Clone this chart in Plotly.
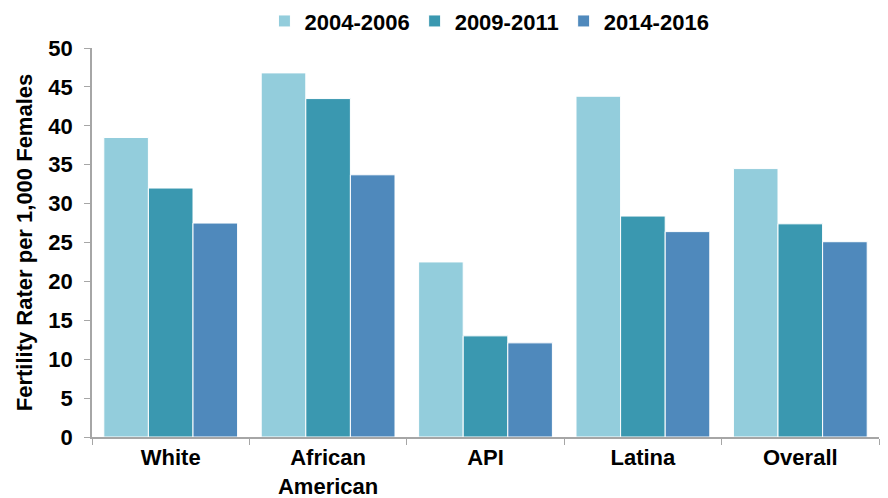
import plotly.graph_objects as go

categories = ["White", "African<br>American", "API", "Latina", "Overall"]
series_names = ["2004-2006", "2009-2011", "2014-2016"]
v_2004_2006 = [38.5, 46.8, 22.5, 43.8, 34.5]
v_2009_2011 = [32.0, 43.5, 13.0, 28.4, 27.4]
v_2014_2016 = [27.5, 33.7, 12.1, 26.4, 25.1]
colors = ["#93CDDC", "#3A98B0", "#4F89BC"]
y_ticks = [0, 5, 10, 15, 20, 25, 30, 35, 40, 45, 50]

fig = go.Figure()
for name, vals, col in zip(series_names, [v_2004_2006, v_2009_2011, v_2014_2016], colors):
    fig.add_trace(go.Bar(
        x=categories, y=vals, name=name,
        marker=dict(color=col, line=dict(color="white", width=1)),
    ))

font_family = "Liberation Sans, Arial, sans-serif"
fig.update_layout(
    width=880, height=490,
    margin=dict(l=84, r=9, t=40, b=61, autoexpand=False),
    paper_bgcolor="white", plot_bgcolor="white",
    barmode="group", bargap=0.15, bargroupgap=0,
    font=dict(family=font_family, color="black"),
    legend=dict(
        orientation="h", x=0.505, xanchor="center", y=1.069, yanchor="middle",
        font=dict(size=22, family=font_family, weight="bold"),
        itemwidth=30, traceorder="normal",
    ),
    xaxis=dict(
        showline=True, linecolor="#A6A6A6", linewidth=1.5,
        ticks="outside", tickson="boundaries", ticklen=6, tickcolor="#A6A6A6",
        tickfont=dict(size=22, family=font_family, weight="bold", color="black"),
        showgrid=False,
    ),
    yaxis=dict(
        range=[0, 50], tickvals=y_ticks,
        showline=True, linecolor="#A6A6A6", linewidth=1.5,
        ticks="outside", ticklen=6, tickcolor="#A6A6A6", ticklabelstandoff=7,
        tickfont=dict(size=22, family=font_family, weight="bold", color="black"),
        showgrid=False, zeroline=False,
        title=dict(text="Fertility Rater per 1,000 Females",
                   font=dict(size=22, family=font_family, weight="bold", color="black"),
                   standoff=10),
    ),
)

fig.write_html("out.html")
